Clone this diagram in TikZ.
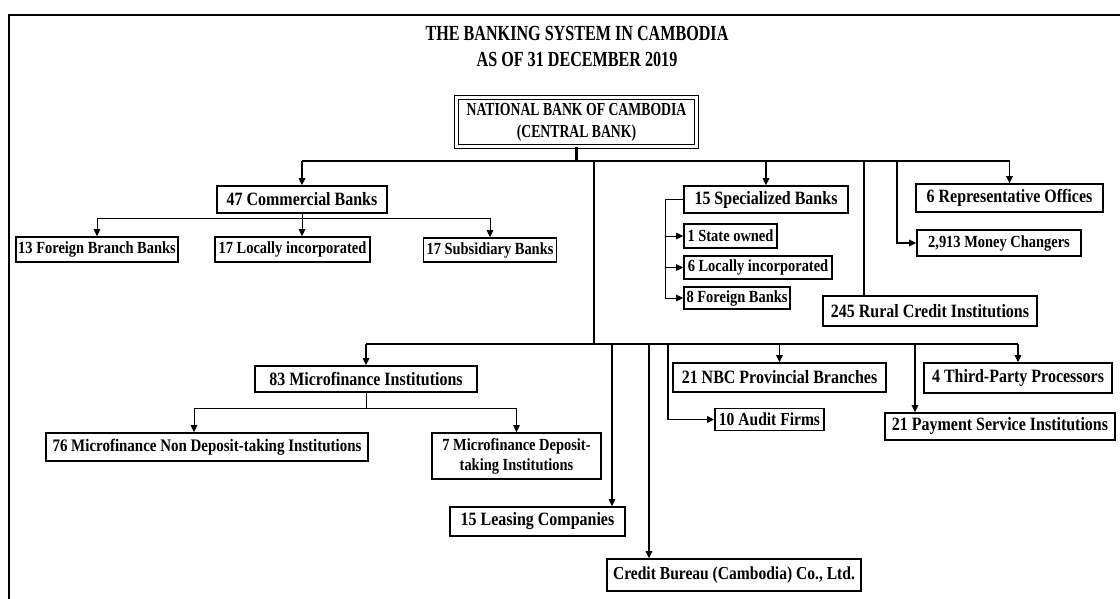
\documentclass[tikz,border=0pt]{standalone}
\usepackage{fontspec}
\setmainfont{Liberation Serif}[FakeStretch=0.85]
\newfontfamily\capsfont{Liberation Serif}[FakeStretch=0.75]
\usetikzlibrary{arrows.meta}
\begin{document}
\begin{tikzpicture}[x=1pt,y=-1pt,
  box/.style={draw, line width=1.6pt, inner sep=0pt, align=center,
    font=\bfseries\fontsize{18.8}{21}\selectfont},
  small/.style={font=\bfseries\fontsize{17}{20}\selectfont},
  titletext/.style={inner sep=0pt, font=\capsfont\bfseries\fontsize{21.5}{24}\selectfont},
  trunk/.style={line width=2.8pt},
  bar/.style={line width=2pt},
  drop/.style={line width=1.4pt, -{Triangle[length=7pt,width=6.5pt]}},
  thinline/.style={line width=0.9pt},
  thinarr/.style={line width=0.9pt, -{Triangle[length=7pt,width=6.5pt]}}]
\useasboundingbox (0,0) rectangle (1120,599);
\fill[white] (0,0) rectangle (1120,599);
% frame
\coordinate (fbl) at (9,599);
\coordinate (ftl) at (9,15);
\coordinate (ftr) at (1120,15);
\draw[line width=2pt] (fbl) -- (ftl) -- (ftr);
% title
\node[titletext] (t1) at (577,33) {THE BANKING SYSTEM IN CAMBODIA};
\node[titletext] (t2) at (577,59) {AS OF 31 DECEMBER 2019};
% central bank
\node[draw, double, double distance=2.2pt, line width=1.1pt, inner sep=0pt, align=center,
  minimum width=240pt, minimum height=49pt,
  font=\capsfont\bfseries\fontsize{18.3}{22}\selectfont] (nbc) at (576.5,122)
  {NATIONAL BANK OF CAMBODIA\\(CENTRAL BANK)};
% upper boxes
\node[box, minimum width=170pt, minimum height=27pt] (cb) at (302,199.5) {47 Commercial Banks};
\node[box, small, minimum width=162pt, minimum height=25pt] (fb) at (97,249.5) {13 Foreign Branch Banks};
\node[box, small, minimum width=155pt, minimum height=25pt] (li) at (292.5,249.5) {17 Locally incorporated};
\node[box, small, minimum width=133pt, minimum height=24pt] (sub) at (490,250) {17 Subsidiary Banks};
\node[box, minimum width=164pt, minimum height=27pt] (sb) at (766,199.5) {15 Specialized Banks};
\node[box, small, minimum width=93pt, minimum height=24pt] (so) at (730.5,236) {1 State owned};
\node[box, small, minimum width=148pt, minimum height=23pt] (sl) at (758,267.5) {6 Locally incorporated};
\node[box, small, minimum width=106pt, minimum height=22pt] (sf) at (737,298) {8 Foreign Banks};
\node[box, minimum width=187pt, minimum height=28pt] (ro) at (1009.5,198) {6 Representative Offices};
\node[box, small, minimum width=164pt, minimum height=26pt] (mc) at (999,243) {2,913 Money Changers};
\node[box, minimum width=214pt, minimum height=30pt] (rc) at (930,311) {245 Rural Credit Institutions};
% lower boxes
\node[box, minimum width=222pt, minimum height=26pt] (mfi) at (366,379) {83 Microfinance Institutions};
\node[box, font=\bfseries\fontsize{17.6}{21}\selectfont, minimum width=322pt, minimum height=28pt] (mn) at (207,447) {76 Microfinance Non Deposit-taking Institutions};
\node[box, small, minimum width=169pt, minimum height=46pt] (md) at (516.5,456) {7 Microfinance Deposit-\\taking Institutions};
\node[box, minimum width=175pt, minimum height=29pt] (lc) at (537.5,521.5) {15 Leasing Companies};
\node[box, font=\bfseries\fontsize{18.3}{21}\selectfont, minimum width=254pt, minimum height=32pt] (cbu) at (734,575) {Credit Bureau (Cambodia) Co., Ltd.};
\node[box, font=\bfseries\fontsize{18.3}{21}\selectfont, minimum width=109pt, minimum height=22pt] (af) at (769.5,419.5) {10 Audit Firms};
\node[box, minimum width=213pt, minimum height=29pt] (np) at (779.5,377.5) {21 NBC Provincial Branches};
\node[box, minimum width=188pt, minimum height=30pt] (tp) at (1018,378) {4 Third-Party Processors};
\node[box, minimum width=230pt, minimum height=27pt] (ps) at (1000,426.5) {21 Payment Service Institutions};
% connector coordinates
\coordinate (nbcb) at (576.5,161);
\coordinate (tl) at (302,161);
\coordinate (tr) at (1009.5,161);
\coordinate (trk) at (594,161);
\coordinate (trkb) at (594,344);
\coordinate (mcx) at (897,161);
\coordinate (rcx) at (864,161);
\coordinate (lbl) at (366,344);
\coordinate (lbr) at (1018,344);
\coordinate (lcx) at (612,344);
\coordinate (cbux) at (649,344);
\coordinate (afx) at (668,344);
\coordinate (psx) at (915,344);
\coordinate (cbr) at (302,218);
\coordinate (cbl) at (97,218);
\coordinate (cbrr) at (490,218);
\coordinate (brk) at (665,199.5);
\coordinate (mfb) at (366,408);
\coordinate (mfl) at (194,408);
\coordinate (mfr) at (516.5,408);
% top structure
\draw[trunk] (nbc.south) -- (nbcb);
\draw[bar] (tl) -- (tr);
\draw[trunk] (trk) -- (trkb);
\draw[drop] (tl) -- (cb.north);
\draw[drop] (sb.north |- tl) -- (sb.north);
\draw[drop] (tr) -- (ro.north);
\draw[drop] (mcx) |- (mc.west);
\draw[trunk] (rcx) -- (rc.north -| rcx);
% commercial banks branch
\draw[thinline] (cb.south) -- (cbr);
\draw[thinline] (cbl) -- (cbrr);
\draw[thinarr] (cbl) -- (fb.north);
\draw[thinarr] (cbr) -- (li.north -| cbr);
\draw[thinarr] (cbrr) -- (sub.north);
% specialized banks bracket
\draw[thinline] (sb.west) -- (brk) -- (sf.west -| brk);
\draw[thinarr] (so.west -| brk) -- (so.west);
\draw[thinarr] (sl.west -| brk) -- (sl.west);
\draw[thinarr] (sf.west -| brk) -- (sf.west);
% lower structure
\draw[bar] (lbl) -- (lbr);
\draw[drop] (lbl) -- (mfi.north);
\draw[drop] (lcx) -- (lc.north -| lcx);
\draw[drop] (cbux) -- (cbu.north -| cbux);
\draw[drop] (afx) |- (af.west);
\draw[drop] (np.north |- lbl) -- (np.north);
\draw[drop] (psx) -- (ps.north -| psx);
\draw[drop] (lbr) -- (tp.north);
% microfinance branch
\draw[thinline] (mfi.south) -- (mfb);
\draw[thinline] (mfl) -- (mfr);
\draw[thinarr] (mfl) -- (mn.north -| mfl);
\draw[thinarr] (mfr) -- (md.north);
\end{tikzpicture}
\end{document}
